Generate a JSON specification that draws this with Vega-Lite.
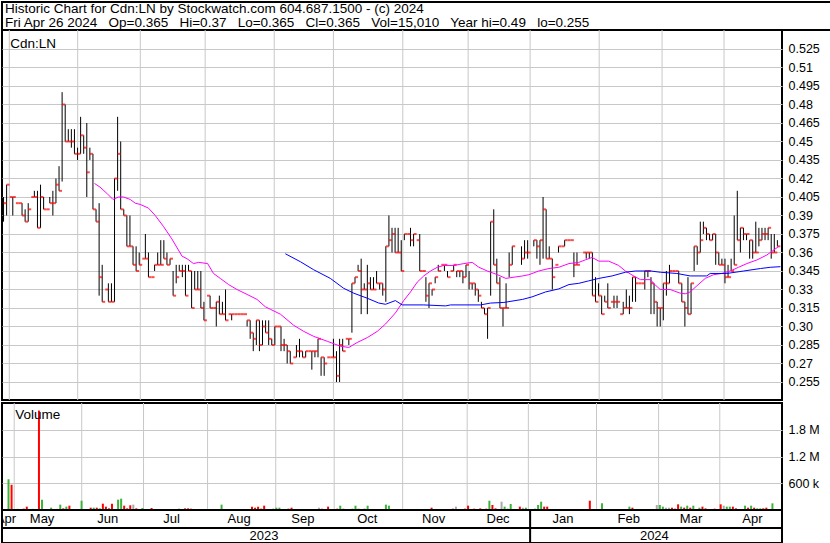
{
"$schema":"https://vega.github.io/schema/vega-lite/v6.json",
"padding":{"left":1,"top":1,"right":0,"bottom":0},
"background":"#ffffff",
"config":{"view":{"stroke":"#000000","strokeWidth":2},"font":"Liberation Sans"},
"datasets":{
"bars":[
{"t":0,"h":0.405,"l":0.385,"c":0.4,"v":690000,"k":"u"},
{"t":1,"h":0.415,"l":0.39,"c":0.415,"v":566000,"k":"d"},
{"t":2,"h":0.405,"l":0.405,"c":0.405,"v":20000,"k":"d"},
{"t":3,"h":0.405,"l":0.39,"c":0.405,"v":25000,"k":"d"},
{"t":4,"h":0.4,"l":0.4,"c":0.4,"v":20000,"k":"d"},
{"t":5,"h":0.4,"l":0.4,"c":0.4,"v":30000,"k":"d"},
{"t":6,"h":0.4,"l":0.39,"c":0.39,"v":75000,"k":"d"},
{"t":7,"h":0.395,"l":0.385,"c":0.385,"v":20000,"k":"u"},
{"t":8,"h":0.4,"l":0.385,"c":0.395,"v":25000,"k":"u"},
{"t":9,"h":0.405,"l":0.405,"c":0.405,"v":20000,"k":"u"},
{"t":10,"h":0.41,"l":0.405,"c":0.405,"v":2230000,"k":"d"},
{"t":11,"h":0.41,"l":0.38,"c":0.38,"v":232000,"k":"u"},
{"t":12,"h":0.415,"l":0.38,"c":0.405,"v":22000,"k":"d"},
{"t":13,"h":0.405,"l":0.395,"c":0.395,"v":22000,"k":"u"},
{"t":14,"h":0.395,"l":0.395,"c":0.395,"v":52000,"k":"u"},
{"t":15,"h":0.405,"l":0.4,"c":0.4,"v":22000,"k":"d"},
{"t":16,"h":0.41,"l":0.39,"c":0.4,"v":25000,"k":"d"},
{"t":17,"h":0.42,"l":0.4,"c":0.415,"v":120000,"k":"u"},
{"t":18,"h":0.43,"l":0.41,"c":0.41,"v":37000,"k":"d"},
{"t":19,"h":0.49,"l":0.4175,"c":0.48,"v":75000,"k":"u"},
{"t":20,"h":0.48,"l":0.45,"c":0.45,"v":97000,"k":"d"},
{"t":21,"h":0.46,"l":0.45,"c":0.45,"v":20000,"k":"d"},
{"t":22,"h":0.46,"l":0.445,"c":0.45,"v":22000,"k":"d"},
{"t":23,"h":0.46,"l":0.44,"c":0.44,"v":20000,"k":"d"},
{"t":24,"h":0.445,"l":0.435,"c":0.44,"v":209000,"k":"u"},
{"t":25,"h":0.47,"l":0.44,"c":0.455,"v":22000,"k":"d"},
{"t":26,"h":0.455,"l":0.44,"c":0.445,"v":20000,"k":"d"},
{"t":27,"h":0.465,"l":0.405,"c":0.425,"v":52000,"k":"d"},
{"t":28,"h":0.445,"l":0.435,"c":0.44,"v":52000,"k":"u"},
{"t":29,"h":0.44,"l":0.395,"c":0.395,"v":52000,"k":"d"},
{"t":30,"h":0.395,"l":0.385,"c":0.385,"v":37000,"k":"u"},
{"t":31,"h":0.4,"l":0.325,"c":0.34,"v":142000,"k":"d"},
{"t":32,"h":0.35,"l":0.32,"c":0.32,"v":75000,"k":"d"},
{"t":33,"h":0.33,"l":0.33,"c":0.33,"v":37000,"k":"d"},
{"t":34,"h":0.335,"l":0.32,"c":0.32,"v":142000,"k":"d"},
{"t":35,"h":0.335,"l":0.32,"c":0.32,"v":20000,"k":"d"},
{"t":36,"h":0.42,"l":0.32,"c":0.42,"v":232000,"k":"u"},
{"t":37,"h":0.47,"l":0.41,"c":0.44,"v":254000,"k":"u"},
{"t":38,"h":0.45,"l":0.395,"c":0.395,"v":97000,"k":"d"},
{"t":39,"h":0.395,"l":0.39,"c":0.39,"v":37000,"k":"d"},
{"t":40,"h":0.39,"l":0.365,"c":0.365,"v":105000,"k":"d"},
{"t":41,"h":0.39,"l":0.365,"c":0.365,"v":120000,"k":"n"},
{"t":42,"h":0.365,"l":0.35,"c":0.35,"v":37000,"k":"d"},
{"t":43,"h":0.365,"l":0.345,"c":0.345,"v":22000,"k":"d"},
{"t":44,"h":0.36,"l":0.35,"c":0.35,"v":45000,"k":"u"},
{"t":45,"h":0.355,"l":0.355,"c":0.355,"v":20000,"k":"d"},
{"t":46,"h":0.375,"l":0.355,"c":0.355,"v":20000,"k":"d"},
{"t":47,"h":0.36,"l":0.34,"c":0.34,"v":45000,"k":"d"},
{"t":48,"h":0.34,"l":0.34,"c":0.34,"v":22000,"k":"d"},
{"t":49,"h":0.35,"l":0.345,"c":0.35,"v":20000,"k":"u"},
{"t":50,"h":0.36,"l":0.35,"c":0.35,"v":22000,"k":"d"},
{"t":51,"h":0.37,"l":0.35,"c":0.35,"v":20000,"k":"d"},
{"t":52,"h":0.37,"l":0.355,"c":0.355,"v":20000,"k":"d"},
{"t":53,"h":0.36,"l":0.35,"c":0.35,"v":22000,"k":"u"},
{"t":54,"h":0.355,"l":0.35,"c":0.355,"v":20000,"k":"d"},
{"t":55,"h":0.345,"l":0.325,"c":0.325,"v":22000,"k":"d"},
{"t":56,"h":0.35,"l":0.335,"c":0.34,"v":30000,"k":"u"},
{"t":57,"h":0.35,"l":0.345,"c":0.345,"v":20000,"k":"d"},
{"t":58,"h":0.35,"l":0.34,"c":0.345,"v":37000,"k":"d"},
{"t":59,"h":0.35,"l":0.325,"c":0.325,"v":37000,"k":"d"},
{"t":60,"h":0.35,"l":0.345,"c":0.345,"v":30000,"k":"d"},
{"t":61,"h":0.345,"l":0.315,"c":0.315,"v":22000,"k":"d"},
{"t":62,"h":0.345,"l":0.33,"c":0.33,"v":20000,"k":"d"},
{"t":63,"h":0.345,"l":0.33,"c":0.33,"v":22000,"k":"d"},
{"t":64,"h":0.345,"l":0.315,"c":0.315,"v":20000,"k":"d"},
{"t":65,"h":0.32,"l":0.305,"c":0.305,"v":22000,"k":"d"},
{"t":66,"h":0.325,"l":0.325,"c":0.325,"v":20000,"k":"u"},
{"t":67,"h":0.325,"l":0.315,"c":0.315,"v":22000,"k":"d"},
{"t":68,"h":0.315,"l":0.315,"c":0.315,"v":20000,"k":"d"},
{"t":69,"h":0.32,"l":0.3,"c":0.32,"v":22000,"k":"u"},
{"t":70,"h":0.325,"l":0.31,"c":0.31,"v":120000,"k":"u"},
{"t":71,"h":0.32,"l":0.31,"c":0.31,"v":22000,"k":"d"},
{"t":72,"h":0.33,"l":0.305,"c":0.305,"v":20000,"k":"d"},
{"t":73,"h":0.31,"l":0.31,"c":0.31,"v":22000,"k":"d"},
{"t":74,"h":0.31,"l":0.305,"c":0.31,"v":20000,"k":"d"},
{"t":75,"h":0.31,"l":0.31,"c":0.31,"v":20000,"k":"d"},
{"t":76,"h":0.31,"l":0.31,"c":0.31,"v":22000,"k":"d"},
{"t":77,"h":0.31,"l":0.31,"c":0.31,"v":20000,"k":"d"},
{"t":78,"h":0.31,"l":0.31,"c":0.31,"v":22000,"k":"d"},
{"t":79,"h":0.305,"l":0.3,"c":0.305,"v":20000,"k":"d"},
{"t":80,"h":0.305,"l":0.29,"c":0.295,"v":75000,"k":"d"},
{"t":81,"h":0.295,"l":0.28,"c":0.29,"v":52000,"k":"d"},
{"t":82,"h":0.305,"l":0.285,"c":0.305,"v":75000,"k":"d"},
{"t":83,"h":0.305,"l":0.28,"c":0.285,"v":30000,"k":"d"},
{"t":84,"h":0.305,"l":0.285,"c":0.3,"v":97000,"k":"d"},
{"t":85,"h":0.305,"l":0.295,"c":0.295,"v":22000,"k":"d"},
{"t":86,"h":0.305,"l":0.285,"c":0.29,"v":22000,"k":"d"},
{"t":87,"h":0.29,"l":0.285,"c":0.285,"v":30000,"k":"u"},
{"t":88,"h":0.3,"l":0.285,"c":0.3,"v":52000,"k":"u"},
{"t":89,"h":0.3,"l":0.3,"c":0.3,"v":52000,"k":"u"},
{"t":90,"h":0.3,"l":0.28,"c":0.285,"v":22000,"k":"d"},
{"t":91,"h":0.29,"l":0.28,"c":0.285,"v":20000,"k":"d"},
{"t":92,"h":0.285,"l":0.27,"c":0.28,"v":30000,"k":"d"},
{"t":93,"h":0.28,"l":0.27,"c":0.27,"v":52000,"k":"d"},
{"t":94,"h":0.275,"l":0.275,"c":0.275,"v":20000,"k":"n"},
{"t":95,"h":0.285,"l":0.275,"c":0.28,"v":22000,"k":"d"},
{"t":96,"h":0.29,"l":0.275,"c":0.28,"v":20000,"k":"n"},
{"t":97,"h":0.28,"l":0.275,"c":0.275,"v":22000,"k":"d"},
{"t":98,"h":0.28,"l":0.275,"c":0.28,"v":20000,"k":"n"},
{"t":99,"h":0.28,"l":0.28,"c":0.28,"v":22000,"k":"d"},
{"t":100,"h":0.28,"l":0.265,"c":0.28,"v":20000,"k":"n"},
{"t":101,"h":0.28,"l":0.275,"c":0.28,"v":22000,"k":"d"},
{"t":102,"h":0.29,"l":0.275,"c":0.29,"v":52000,"k":"n"},
{"t":103,"h":0.275,"l":0.26,"c":0.275,"v":30000,"k":"d"},
{"t":104,"h":0.275,"l":0.26,"c":0.27,"v":22000,"k":"d"},
{"t":105,"h":0.275,"l":0.275,"c":0.275,"v":75000,"k":"d"},
{"t":106,"h":0.275,"l":0.275,"c":0.275,"v":22000,"k":"d"},
{"t":107,"h":0.29,"l":0.275,"c":0.275,"v":22000,"k":"d"},
{"t":108,"h":0.28,"l":0.255,"c":0.26,"v":30000,"k":"d"},
{"t":109,"h":0.29,"l":0.255,"c":0.285,"v":97000,"k":"u"},
{"t":110,"h":0.29,"l":0.28,"c":0.28,"v":30000,"k":"u"},
{"t":111,"h":0.29,"l":0.29,"c":0.29,"v":22000,"k":"d"},
{"t":112,"h":0.29,"l":0.285,"c":0.29,"v":22000,"k":"d"},
{"t":113,"h":0.335,"l":0.295,"c":0.335,"v":30000,"k":"u"},
{"t":114,"h":0.34,"l":0.335,"c":0.34,"v":97000,"k":"u"},
{"t":115,"h":0.35,"l":0.345,"c":0.345,"v":30000,"k":"u"},
{"t":116,"h":0.355,"l":0.31,"c":0.33,"v":22000,"k":"d"},
{"t":117,"h":0.335,"l":0.33,"c":0.33,"v":30000,"k":"u"},
{"t":118,"h":0.35,"l":0.31,"c":0.335,"v":97000,"k":"u"},
{"t":119,"h":0.34,"l":0.33,"c":0.33,"v":22000,"k":"d"},
{"t":120,"h":0.34,"l":0.33,"c":0.33,"v":22000,"k":"u"},
{"t":121,"h":0.345,"l":0.335,"c":0.335,"v":22000,"k":"d"},
{"t":122,"h":0.335,"l":0.33,"c":0.335,"v":20000,"k":"d"},
{"t":123,"h":0.335,"l":0.325,"c":0.33,"v":22000,"k":"d"},
{"t":124,"h":0.365,"l":0.32,"c":0.365,"v":120000,"k":"u"},
{"t":125,"h":0.39,"l":0.365,"c":0.37,"v":97000,"k":"u"},
{"t":126,"h":0.38,"l":0.36,"c":0.375,"v":22000,"k":"d"},
{"t":127,"h":0.38,"l":0.36,"c":0.36,"v":22000,"k":"d"},
{"t":128,"h":0.38,"l":0.36,"c":0.36,"v":20000,"k":"d"},
{"t":129,"h":0.37,"l":0.345,"c":0.345,"v":22000,"k":"d"},
{"t":130,"h":0.375,"l":0.37,"c":0.375,"v":20000,"k":"d"},
{"t":131,"h":0.375,"l":0.375,"c":0.375,"v":22000,"k":"d"},
{"t":132,"h":0.38,"l":0.365,"c":0.37,"v":20000,"k":"d"},
{"t":133,"h":0.375,"l":0.365,"c":0.375,"v":22000,"k":"d"},
{"t":134,"h":0.37,"l":0.37,"c":0.37,"v":20000,"k":"d"},
{"t":135,"h":0.375,"l":0.345,"c":0.345,"v":22000,"k":"d"},
{"t":136,"h":0.345,"l":0.345,"c":0.345,"v":20000,"k":"d"},
{"t":137,"h":0.34,"l":0.32,"c":0.325,"v":22000,"k":"d"},
{"t":138,"h":0.335,"l":0.315,"c":0.335,"v":20000,"k":"d"},
{"t":139,"h":0.33,"l":0.325,"c":0.33,"v":52000,"k":"d"},
{"t":140,"h":0.34,"l":0.335,"c":0.34,"v":22000,"k":"d"},
{"t":141,"h":0.35,"l":0.345,"c":0.345,"v":20000,"k":"d"},
{"t":142,"h":0.35,"l":0.35,"c":0.35,"v":22000,"k":"d"},
{"t":143,"h":0.35,"l":0.345,"c":0.35,"v":20000,"k":"d"},
{"t":144,"h":0.345,"l":0.34,"c":0.34,"v":22000,"k":"d"},
{"t":145,"h":0.345,"l":0.345,"c":0.345,"v":20000,"k":"d"},
{"t":146,"h":0.35,"l":0.345,"c":0.35,"v":30000,"k":"d"},
{"t":147,"h":0.345,"l":0.34,"c":0.345,"v":75000,"k":"n"},
{"t":148,"h":0.345,"l":0.34,"c":0.345,"v":20000,"k":"d"},
{"t":149,"h":0.345,"l":0.335,"c":0.34,"v":22000,"k":"d"},
{"t":150,"h":0.35,"l":0.34,"c":0.35,"v":30000,"k":"d"},
{"t":151,"h":0.345,"l":0.33,"c":0.335,"v":97000,"k":"d"},
{"t":152,"h":0.335,"l":0.33,"c":0.335,"v":22000,"k":"d"},
{"t":153,"h":0.335,"l":0.325,"c":0.33,"v":30000,"k":"d"},
{"t":154,"h":0.33,"l":0.32,"c":0.325,"v":22000,"k":"d"},
{"t":155,"h":0.32,"l":0.315,"c":0.315,"v":37000,"k":"d"},
{"t":156,"h":0.315,"l":0.31,"c":0.31,"v":22000,"k":"d"},
{"t":157,"h":0.315,"l":0.29,"c":0.315,"v":30000,"k":"d"},
{"t":158,"h":0.385,"l":0.325,"c":0.385,"v":209000,"k":"u"},
{"t":159,"h":0.395,"l":0.35,"c":0.35,"v":112000,"k":"d"},
{"t":160,"h":0.355,"l":0.335,"c":0.335,"v":37000,"k":"d"},
{"t":161,"h":0.34,"l":0.315,"c":0.315,"v":22000,"k":"d"},
{"t":162,"h":0.315,"l":0.3,"c":0.315,"v":187000,"k":"n"},
{"t":163,"h":0.335,"l":0.315,"c":0.315,"v":75000,"k":"u"},
{"t":164,"h":0.36,"l":0.34,"c":0.35,"v":30000,"k":"u"},
{"t":165,"h":0.365,"l":0.35,"c":0.365,"v":135000,"k":"u"},
{"t":168,"h":0.365,"l":0.35,"c":0.355,"v":75000,"k":"d"},
{"t":169,"h":0.37,"l":0.355,"c":0.36,"v":52000,"k":"n"},
{"t":170,"h":0.37,"l":0.355,"c":0.36,"v":52000,"k":"u"},
{"t":172,"h":0.37,"l":0.365,"c":0.37,"v":22000,"k":"n"},
{"t":173,"h":0.37,"l":0.355,"c":0.365,"v":30000,"k":"u"},
{"t":174,"h":0.37,"l":0.35,"c":0.37,"v":112000,"k":"u"},
{"t":175,"h":0.405,"l":0.355,"c":0.395,"v":187000,"k":"u"},
{"t":176,"h":0.395,"l":0.355,"c":0.355,"v":75000,"k":"d"},
{"t":177,"h":0.365,"l":0.355,"c":0.355,"v":75000,"k":"d"},
{"t":178,"h":0.355,"l":0.33,"c":0.34,"v":22000,"k":"d"},
{"t":179,"h":0.35,"l":0.35,"c":0.35,"v":20000,"k":"n"},
{"t":180,"h":0.365,"l":0.36,"c":0.365,"v":22000,"k":"d"},
{"t":181,"h":0.365,"l":0.365,"c":0.365,"v":20000,"k":"n"},
{"t":182,"h":0.37,"l":0.365,"c":0.37,"v":22000,"k":"d"},
{"t":183,"h":0.37,"l":0.37,"c":0.37,"v":20000,"k":"d"},
{"t":184,"h":0.37,"l":0.37,"c":0.37,"v":22000,"k":"n"},
{"t":185,"h":0.36,"l":0.34,"c":0.35,"v":22000,"k":"d"},
{"t":186,"h":0.36,"l":0.35,"c":0.35,"v":20000,"k":"d"},
{"t":188,"h":0.36,"l":0.36,"c":0.36,"v":22000,"k":"d"},
{"t":189,"h":0.36,"l":0.355,"c":0.36,"v":20000,"k":"n"},
{"t":190,"h":0.36,"l":0.355,"c":0.36,"v":22000,"k":"d"},
{"t":191,"h":0.36,"l":0.325,"c":0.325,"v":209000,"k":"d"},
{"t":192,"h":0.34,"l":0.32,"c":0.32,"v":22000,"k":"d"},
{"t":193,"h":0.335,"l":0.325,"c":0.325,"v":20000,"k":"d"},
{"t":194,"h":0.325,"l":0.31,"c":0.31,"v":22000,"k":"d"},
{"t":195,"h":0.325,"l":0.32,"c":0.32,"v":150000,"k":"u"},
{"t":196,"h":0.335,"l":0.315,"c":0.315,"v":22000,"k":"d"},
{"t":197,"h":0.32,"l":0.32,"c":0.32,"v":20000,"k":"u"},
{"t":198,"h":0.325,"l":0.315,"c":0.32,"v":22000,"k":"d"},
{"t":199,"h":0.325,"l":0.315,"c":0.32,"v":20000,"k":"d"},
{"t":200,"h":0.31,"l":0.31,"c":0.31,"v":22000,"k":"u"},
{"t":201,"h":0.32,"l":0.31,"c":0.315,"v":20000,"k":"d"},
{"t":202,"h":0.33,"l":0.315,"c":0.315,"v":22000,"k":"d"},
{"t":203,"h":0.325,"l":0.31,"c":0.315,"v":20000,"k":"d"},
{"t":204,"h":0.34,"l":0.32,"c":0.34,"v":75000,"k":"u"},
{"t":205,"h":0.34,"l":0.32,"c":0.335,"v":52000,"k":"d"},
{"t":206,"h":0.335,"l":0.335,"c":0.335,"v":22000,"k":"d"},
{"t":207,"h":0.335,"l":0.335,"c":0.335,"v":20000,"k":"d"},
{"t":208,"h":0.345,"l":0.33,"c":0.345,"v":22000,"k":"d"},
{"t":209,"h":0.345,"l":0.34,"c":0.345,"v":20000,"k":"d"},
{"t":210,"h":0.34,"l":0.31,"c":0.335,"v":22000,"k":"d"},
{"t":211,"h":0.335,"l":0.31,"c":0.32,"v":20000,"k":"d"},
{"t":212,"h":0.32,"l":0.3,"c":0.315,"v":22000,"k":"d"},
{"t":213,"h":0.315,"l":0.3,"c":0.315,"v":112000,"k":"n"},
{"t":214,"h":0.335,"l":0.305,"c":0.335,"v":112000,"k":"u"},
{"t":215,"h":0.345,"l":0.325,"c":0.335,"v":75000,"k":"u"},
{"t":216,"h":0.35,"l":0.335,"c":0.345,"v":52000,"k":"n"},
{"t":217,"h":0.345,"l":0.345,"c":0.345,"v":52000,"k":"n"},
{"t":218,"h":0.345,"l":0.345,"c":0.345,"v":52000,"k":"d"},
{"t":219,"h":0.345,"l":0.335,"c":0.335,"v":30000,"k":"d"},
{"t":220,"h":0.335,"l":0.32,"c":0.32,"v":127000,"k":"d"},
{"t":221,"h":0.32,"l":0.3,"c":0.315,"v":75000,"k":"u"},
{"t":222,"h":0.34,"l":0.31,"c":0.31,"v":52000,"k":"d"},
{"t":223,"h":0.335,"l":0.31,"c":0.335,"v":97000,"k":"u"},
{"t":224,"h":0.365,"l":0.345,"c":0.365,"v":52000,"k":"d"},
{"t":225,"h":0.365,"l":0.35,"c":0.36,"v":97000,"k":"u"},
{"t":226,"h":0.385,"l":0.36,"c":0.37,"v":22000,"k":"d"},
{"t":227,"h":0.385,"l":0.375,"c":0.38,"v":52000,"k":"u"},
{"t":228,"h":0.38,"l":0.37,"c":0.375,"v":75000,"k":"d"},
{"t":229,"h":0.375,"l":0.37,"c":0.37,"v":37000,"k":"d"},
{"t":230,"h":0.375,"l":0.37,"c":0.375,"v":22000,"k":"d"},
{"t":231,"h":0.375,"l":0.35,"c":0.36,"v":22000,"k":"d"},
{"t":232,"h":0.36,"l":0.35,"c":0.35,"v":30000,"k":"d"},
{"t":233,"h":0.355,"l":0.35,"c":0.35,"v":22000,"k":"d"},
{"t":234,"h":0.355,"l":0.335,"c":0.34,"v":127000,"k":"d"},
{"t":235,"h":0.35,"l":0.34,"c":0.34,"v":97000,"k":"n"},
{"t":236,"h":0.355,"l":0.345,"c":0.345,"v":75000,"k":"u"},
{"t":237,"h":0.39,"l":0.35,"c":0.35,"v":75000,"k":"u"},
{"t":238,"h":0.41,"l":0.37,"c":0.37,"v":75000,"k":"d"},
{"t":239,"h":0.38,"l":0.36,"c":0.38,"v":37000,"k":"d"},
{"t":240,"h":0.38,"l":0.37,"c":0.375,"v":22000,"k":"d"},
{"t":241,"h":0.375,"l":0.37,"c":0.375,"v":22000,"k":"u"},
{"t":242,"h":0.37,"l":0.355,"c":0.37,"v":97000,"k":"u"},
{"t":243,"h":0.37,"l":0.355,"c":0.36,"v":52000,"k":"d"},
{"t":244,"h":0.385,"l":0.36,"c":0.36,"v":97000,"k":"u"},
{"t":245,"h":0.38,"l":0.365,"c":0.37,"v":52000,"k":"d"},
{"t":246,"h":0.38,"l":0.37,"c":0.375,"v":37000,"k":"u"},
{"t":247,"h":0.38,"l":0.37,"c":0.375,"v":37000,"k":"u"},
{"t":248,"h":0.38,"l":0.37,"c":0.38,"v":37000,"k":"d"},
{"t":249,"h":0.375,"l":0.355,"c":0.36,"v":52000,"k":"d"},
{"t":250,"h":0.375,"l":0.36,"c":0.36,"v":22000,"k":"d"},
{"t":251,"h":0.37,"l":0.365,"c":0.365,"v":150000,"k":"u"}
],
"ma30":[
{"t":29.5,"p":0.416},{"t":31.3,"p":0.413},{"t":33.5,"p":0.408},{"t":35.5,"p":0.403},{"t":37.3,"p":0.405},{"t":38.9,"p":0.405},{"t":41.1,"p":0.403},{"t":42.7,"p":0.4},{"t":44.3,"p":0.399},{"t":47,"p":0.396},{"t":49.2,"p":0.39},{"t":51.9,"p":0.381},{"t":54.6,"p":0.371},{"t":57.9,"p":0.357},{"t":59.5,"p":0.355},{"t":61.6,"p":0.351},{"t":63.3,"p":0.352},{"t":66.2,"p":0.351},{"t":68.1,"p":0.343},{"t":70.3,"p":0.339},{"t":73,"p":0.334},{"t":75.7,"p":0.33},{"t":79,"p":0.326},{"t":82.2,"p":0.322},{"t":84.9,"p":0.316},{"t":86.5,"p":0.314},{"t":89.8,"p":0.31},{"t":94.1,"p":0.301},{"t":97.4,"p":0.296},{"t":100.6,"p":0.292},{"t":105,"p":0.288},{"t":109.3,"p":0.284},{"t":112,"p":0.283},{"t":114.7,"p":0.287},{"t":118,"p":0.291},{"t":121.2,"p":0.296},{"t":123.9,"p":0.302},{"t":127.1,"p":0.311},{"t":129.8,"p":0.321},{"t":132,"p":0.328},{"t":134.2,"p":0.336},{"t":136.3,"p":0.341},{"t":138.5,"p":0.345},{"t":140.7,"p":0.348},{"t":142.8,"p":0.3495},{"t":146.1,"p":0.3495},{"t":149.3,"p":0.351},{"t":152,"p":0.352},{"t":154.2,"p":0.348},{"t":156.9,"p":0.345},{"t":160.2,"p":0.342},{"t":162.9,"p":0.339},{"t":165.6,"p":0.34},{"t":168.4,"p":0.341},{"t":170.4,"p":0.342},{"t":173.6,"p":0.345},{"t":176.9,"p":0.347},{"t":180.1,"p":0.348},{"t":183.4,"p":0.351},{"t":186.6,"p":0.352},{"t":188.7,"p":0.354},{"t":190.9,"p":0.356},{"t":193.1,"p":0.353},{"t":196.3,"p":0.353},{"t":199.5,"p":0.3495},{"t":201.7,"p":0.345},{"t":204.4,"p":0.341},{"t":206.6,"p":0.338},{"t":209.9,"p":0.338},{"t":210.8,"p":0.335},{"t":213,"p":0.33},{"t":216.2,"p":0.33},{"t":219.5,"p":0.327},{"t":221.1,"p":0.3265},{"t":222.7,"p":0.328},{"t":224.9,"p":0.333},{"t":227.6,"p":0.339},{"t":230.3,"p":0.342},{"t":233,"p":0.343},{"t":235.7,"p":0.345},{"t":238.4,"p":0.348},{"t":241.1,"p":0.351},{"t":244.4,"p":0.354},{"t":247.6,"p":0.358},{"t":251.5,"p":0.365}
],
"ma90":[
{"t":91.4,"p":0.359},{"t":96.3,"p":0.3525},{"t":100.6,"p":0.346},{"t":106,"p":0.339},{"t":110.3,"p":0.331},{"t":113.6,"p":0.327},{"t":117.9,"p":0.323},{"t":121.7,"p":0.319},{"t":123.9,"p":0.318},{"t":127.1,"p":0.321},{"t":129.3,"p":0.3175},{"t":136.3,"p":0.3175},{"t":143.4,"p":0.3167},{"t":145,"p":0.3175},{"t":154.7,"p":0.3175},{"t":158,"p":0.319},{"t":162.3,"p":0.3195},{"t":168.4,"p":0.322},{"t":171.4,"p":0.324},{"t":175.8,"p":0.328},{"t":180.1,"p":0.3305},{"t":183.4,"p":0.334},{"t":186.6,"p":0.335},{"t":189.8,"p":0.337},{"t":193.1,"p":0.339},{"t":197.4,"p":0.341},{"t":201.7,"p":0.344},{"t":205,"p":0.345},{"t":209.9,"p":0.345},{"t":213,"p":0.344},{"t":218.4,"p":0.343},{"t":222.7,"p":0.341},{"t":228.1,"p":0.341},{"t":229.2,"p":0.343},{"t":234.6,"p":0.343},{"t":240.1,"p":0.345},{"t":245.5,"p":0.347},{"t":248.7,"p":0.348},{"t":252,"p":0.3485}
],
"months":[{"b":1.87},{"b":24.05},{"b":44.36},{"b":65.4},{"b":87.8},{"b":107},{"b":129.5},{"b":150.7},{"b":170.8},{"b":193.2},{"b":213.6},{"b":233.7}],
"mlabels":[{"m":"Apr","x":0.8},{"m":"May","x":12.5},{"m":"Jun","x":33.8},{"m":"Jul","x":54.5},{"m":"Aug","x":76.4},{"m":"Sep","x":97.1},{"m":"Oct","x":118},{"m":"Nov","x":139.5},{"m":"Dec","x":160.4},{"m":"Jan","x":181.5},{"m":"Feb","x":202.8},{"m":"Mar","x":223},{"m":"Apr","x":242.9}],
"years":[{"y":"2023","x":84.5},{"y":"2024","x":211.1}]
},
"spacing":0,
"bounds":"flush",
"resolve":{"scale":{"x":"independent","y":"independent","color":"independent"}},
"vconcat":[
{
"width":829,"height":28,
"data":{"values":[{"line":1,"text":"Historic Chart for Cdn:LN by Stockwatch.com 604.687.1500 - (c) 2024"},{"line":2,"text":"Fri Apr 26 2024\u00a0\u00a0 Op=0.365\u00a0\u00a0 Hi=0.37\u00a0\u00a0 Lo=0.365\u00a0\u00a0 Cl=0.365\u00a0\u00a0 Vol=15,010\u00a0\u00a0 Year hi=0.49\u00a0\u00a0 lo=0.255"}]},
"mark":{"type":"text","align":"left","baseline":"middle","font":"Liberation Sans","fontSize":13.5,"color":"#000000","dx":3},
"encoding":{
"x":{"datum":0,"type":"quantitative","scale":{"domain":[0,1]},"axis":null},
"y":{"field":"line","type":"ordinal","scale":{"type":"point","padding":0.5},"axis":null},
"text":{"field":"text"}
}
},
{
"width":780,"height":370,
"layer":[
{"data":{"name":"months"},"mark":{"type":"rule","color":"#c8c8c8","strokeWidth":1},
"encoding":{"x":{"field":"b","type":"quantitative","scale":{"domain":[-0.5,252.5],"nice":false,"zero":false},"axis":null}}},
{"data":{"name":"bars"},"mark":{"type":"rule","color":"#000000","strokeWidth":1,"clip":true},
"encoding":{"x":{"field":"t","type":"quantitative","scale":{"domain":[-0.5,252.5],"nice":false,"zero":false},"axis":null},
"y":{"field":"h","type":"quantitative","scale":{"domain":[0.2404,0.5404],"nice":false,"zero":false},
"axis":{"orient":"right","values":[0.255,0.27,0.285,0.3,0.315,0.33,0.345,0.36,0.375,0.39,0.405,0.42,0.435,0.45,0.465,0.48,0.495,0.51,0.525],"format":".3~f","labelExpr":"datum.value == 0.3 ? '0.30' : datum.label","grid":true,"gridColor":"#c8c8c8","gridWidth":1,"domain":false,"ticks":false,"labelPadding":6,"labelFont":"Liberation Sans","labelFontSize":12.5,"labelColor":"#000000","title":null,"labelFlush":false,"labelOverlap":false,"labelBound":false}},
"y2":{"field":"l"}}},
{"data":{"name":"bars"},"mark":{"type":"tick","orient":"horizontal","color":"#ff0000","size":3,"thickness":2,"xOffset":1.5,"clip":true},
"encoding":{"x":{"field":"t","type":"quantitative","scale":{"domain":[-0.5,252.5],"nice":false,"zero":false},"axis":null},
"y":{"field":"c","type":"quantitative","scale":{"domain":[0.2404,0.5404],"nice":false,"zero":false},
"axis":{"orient":"right","values":[0.255,0.27,0.285,0.3,0.315,0.33,0.345,0.36,0.375,0.39,0.405,0.42,0.435,0.45,0.465,0.48,0.495,0.51,0.525],"format":".3~f","labelExpr":"datum.value == 0.3 ? '0.30' : datum.label","grid":true,"gridColor":"#c8c8c8","gridWidth":1,"domain":false,"ticks":false,"labelPadding":6,"labelFont":"Liberation Sans","labelFontSize":12.5,"labelColor":"#000000","title":null,"labelFlush":false,"labelOverlap":false,"labelBound":false}}}},
{"data":{"name":"ma30"},"mark":{"type":"line","color":"#ff00ff","strokeWidth":1,"clip":true},
"encoding":{"x":{"field":"t","type":"quantitative","scale":{"domain":[-0.5,252.5],"nice":false,"zero":false},"axis":null},
"y":{"field":"p","type":"quantitative","scale":{"domain":[0.2404,0.5404],"nice":false,"zero":false},
"axis":{"orient":"right","values":[0.255,0.27,0.285,0.3,0.315,0.33,0.345,0.36,0.375,0.39,0.405,0.42,0.435,0.45,0.465,0.48,0.495,0.51,0.525],"format":".3~f","labelExpr":"datum.value == 0.3 ? '0.30' : datum.label","grid":true,"gridColor":"#c8c8c8","gridWidth":1,"domain":false,"ticks":false,"labelPadding":6,"labelFont":"Liberation Sans","labelFontSize":12.5,"labelColor":"#000000","title":null,"labelFlush":false,"labelOverlap":false,"labelBound":false}}}},
{"data":{"name":"ma90"},"mark":{"type":"line","color":"#0000ff","strokeWidth":1,"clip":true},
"encoding":{"x":{"field":"t","type":"quantitative","scale":{"domain":[-0.5,252.5],"nice":false,"zero":false},"axis":null},
"y":{"field":"p","type":"quantitative","scale":{"domain":[0.2404,0.5404],"nice":false,"zero":false},
"axis":{"orient":"right","values":[0.255,0.27,0.285,0.3,0.315,0.33,0.345,0.36,0.375,0.39,0.405,0.42,0.435,0.45,0.465,0.48,0.495,0.51,0.525],"format":".3~f","labelExpr":"datum.value == 0.3 ? '0.30' : datum.label","grid":true,"gridColor":"#c8c8c8","gridWidth":1,"domain":false,"ticks":false,"labelPadding":6,"labelFont":"Liberation Sans","labelFontSize":12.5,"labelColor":"#000000","title":null,"labelFlush":false,"labelOverlap":false,"labelBound":false}}}},
{"data":{"values":[{"s":"Cdn:LN"}]},"mark":{"type":"text","align":"left","baseline":"alphabetic","font":"Liberation Sans","fontSize":13.5,"color":"#000000"},
"encoding":{"x":{"datum":2.2,"type":"quantitative","scale":{"domain":[-0.5,252.5],"nice":false,"zero":false},"axis":null},
"y":{"datum":0.5262,"type":"quantitative","scale":{"domain":[0.2404,0.5404],"nice":false,"zero":false},
"axis":{"orient":"right","values":[0.255,0.27,0.285,0.3,0.315,0.33,0.345,0.36,0.375,0.39,0.405,0.42,0.435,0.45,0.465,0.48,0.495,0.51,0.525],"format":".3~f","labelExpr":"datum.value == 0.3 ? '0.30' : datum.label","grid":true,"gridColor":"#c8c8c8","gridWidth":1,"domain":false,"ticks":false,"labelPadding":6,"labelFont":"Liberation Sans","labelFontSize":12.5,"labelColor":"#000000","title":null,"labelFlush":false,"labelOverlap":false,"labelBound":false}},
"text":{"field":"s"}}}
]
},
{
"width":780,"height":3,
"view":{"stroke":null},
"data":{"values":[]},
"mark":{"type":"point","opacity":0}
},
{
"width":780,"height":107,
"layer":[
{"data":{"name":"months"},"mark":{"type":"rule","color":"#c8c8c8","strokeWidth":1},
"encoding":{"x":{"field":"b","type":"quantitative","scale":{"domain":[-0.5,252.5],"nice":false,"zero":false},"axis":null}}},
{"data":{"name":"bars"},"mark":{"type":"bar","size":2,"clip":true},
"encoding":{"x":{"field":"t","type":"quantitative","scale":{"domain":[-0.5,252.5],"nice":false,"zero":false},"axis":null},
"y":{"field":"v","type":"quantitative","scale":{"domain":[0,2400000],"nice":false,"zero":false},
"axis":{"orient":"right","values":[600000,1200000,1800000],"labelExpr":"datum.value >= 1000000 ? format(datum.value/1000000,'.1f') + ' M' : format(datum.value/1000,'d') + ' k'","grid":true,"gridColor":"#c8c8c8","gridWidth":1,"domain":false,"ticks":false,"labelPadding":6,"labelFont":"Liberation Sans","labelFontSize":12.5,"labelColor":"#000000","title":null,"labelFlush":false,"labelOverlap":false,"labelBound":false}},
"color":{"field":"k","type":"nominal","scale":{"domain":["u","d","n"],"range":["#3cb43c","#ff0000","#aaaaaa"]},"legend":null}}},
{"data":{"values":[{"s":"Volume"}]},"mark":{"type":"text","align":"left","baseline":"alphabetic","font":"Liberation Sans","fontSize":13.5,"color":"#000000"},
"encoding":{"x":{"datum":2.2,"type":"quantitative","scale":{"domain":[-0.5,252.5],"nice":false,"zero":false},"axis":null},
"y":{"datum":2034000,"type":"quantitative","scale":{"domain":[0,2400000],"nice":false,"zero":false},
"axis":{"orient":"right","values":[600000,1200000,1800000],"labelExpr":"datum.value >= 1000000 ? format(datum.value/1000000,'.1f') + ' M' : format(datum.value/1000,'d') + ' k'","grid":true,"gridColor":"#c8c8c8","gridWidth":1,"domain":false,"ticks":false,"labelPadding":6,"labelFont":"Liberation Sans","labelFontSize":12.5,"labelColor":"#000000","title":null,"labelFlush":false,"labelOverlap":false,"labelBound":false}},
"text":{"field":"s"}}}
]
},
{
"width":780,"height":18,
"layer":[
{"data":{"name":"mlabels"},"mark":{"type":"text","align":"center","baseline":"middle","font":"Liberation Sans","fontSize":13,"color":"#000000","clip":true},
"encoding":{"x":{"field":"x","type":"quantitative","scale":{"domain":[-0.5,252.5],"nice":false,"zero":false},"axis":null},"text":{"field":"m"}}},
{"data":{"values":[{}]},"mark":{"type":"rule","color":"#000000","strokeWidth":2},
"encoding":{"x":{"datum":170.8,"type":"quantitative","scale":{"domain":[-0.5,252.5],"nice":false,"zero":false},"axis":null}}}
]
},
{
"width":780,"height":15,
"layer":[
{"data":{"name":"years"},"mark":{"type":"text","align":"center","baseline":"middle","font":"Liberation Sans","fontSize":13,"color":"#000000"},
"encoding":{"x":{"field":"x","type":"quantitative","scale":{"domain":[-0.5,252.5],"nice":false,"zero":false},"axis":null},"text":{"field":"y"}}},
{"data":{"values":[{}]},"mark":{"type":"rule","color":"#000000","strokeWidth":2},
"encoding":{"x":{"datum":170.8,"type":"quantitative","scale":{"domain":[-0.5,252.5],"nice":false,"zero":false},"axis":null}}}
]
}
]
}
